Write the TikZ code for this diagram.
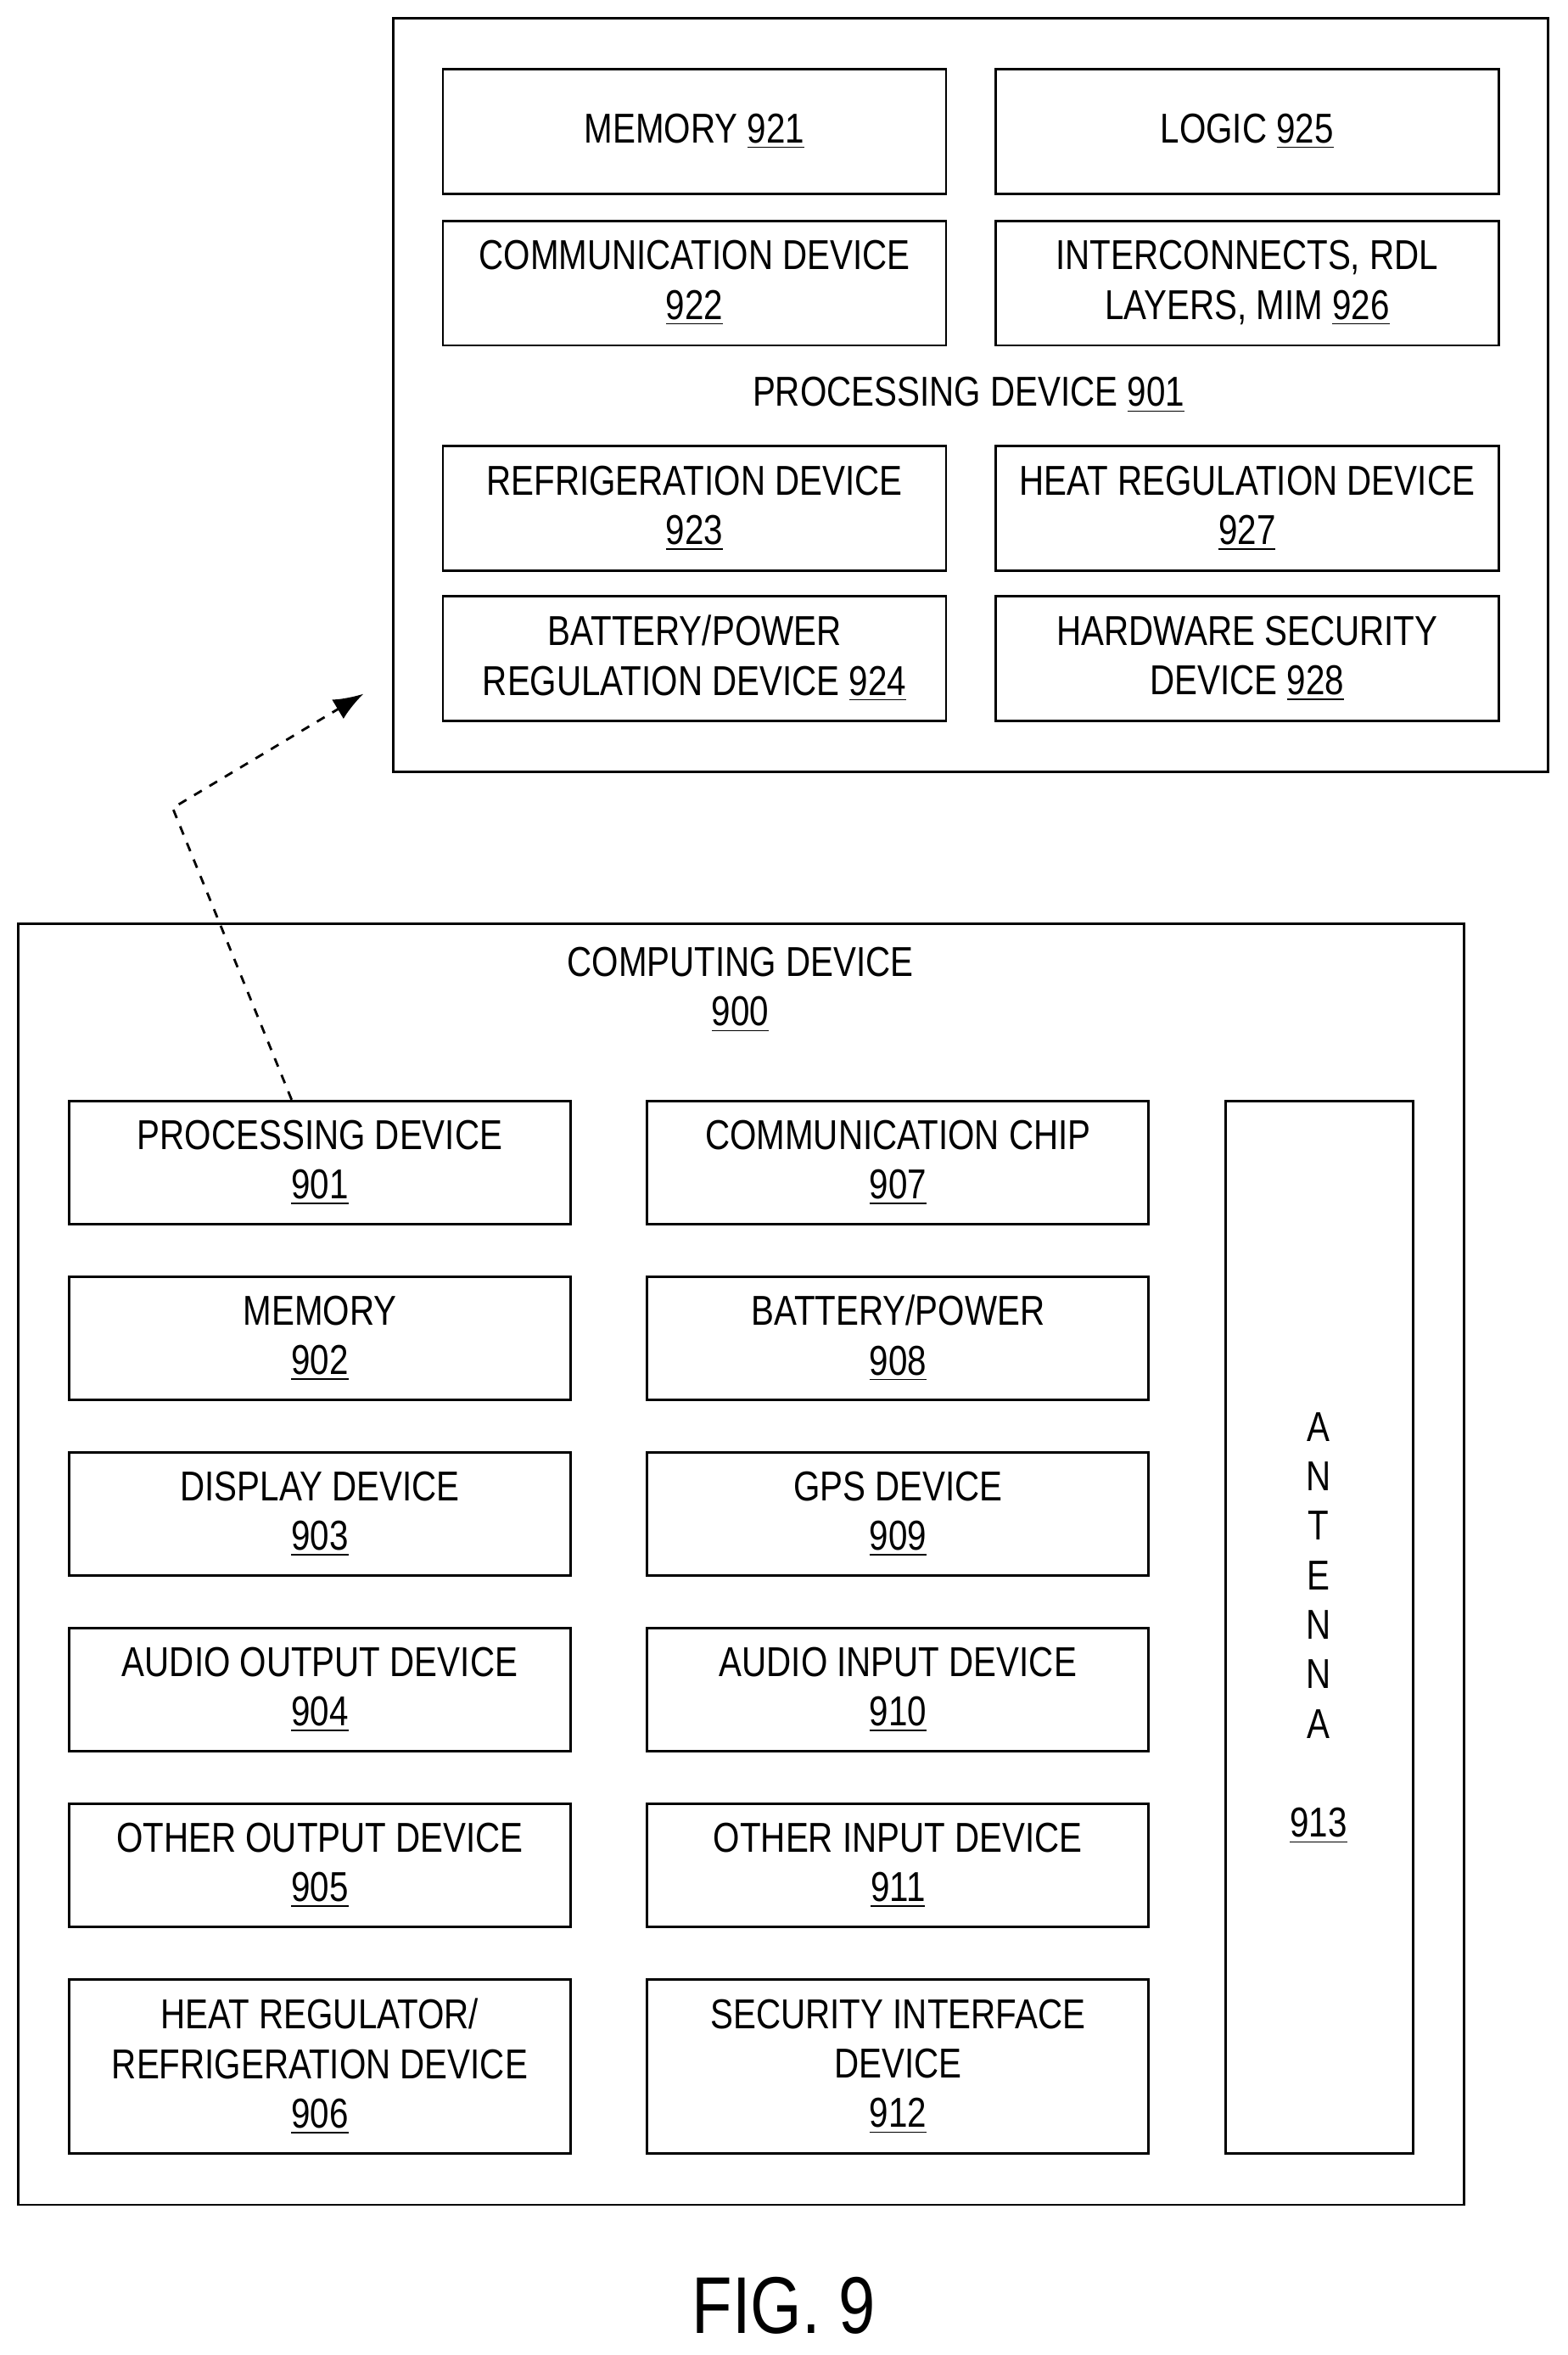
\documentclass[tikz,border=0pt]{standalone}
\usepackage{fontspec}
\setmainfont{Liberation Sans}[FakeStretch=0.82]
\usepackage{tikz}
\usetikzlibrary{arrows.meta}
\newcommand{\refnum}[1]{\underline{#1}}

\begin{document}
\begin{tikzpicture}[x=0.0177cm,y=-0.0177cm,
  every node/.style={font=\fontsize{14}{16.6}\selectfont,align=center},
  blk/.style={draw,thick,inner sep=0pt}]
\useasboundingbox (0,0) rectangle (1044,1568);

% processing device detail
\node[blk,minimum width=769*0.0177cm,minimum height=502*0.0177cm] (pd) at (646.5,263) {};
\node (pdlabel) at (645,263) {PROCESSING DEVICE \refnum{901}};
\begin{scope}[every node/.append style={blk,minimum width=335*0.0177cm,minimum height=83*0.0177cm}]
\node (921) at (462.5,87.5) {MEMORY \refnum{921}};
\node (925) at (830.5,87.5) {LOGIC \refnum{925}};
\node (922) at (462.5,188.5) {COMMUNICATION DEVICE\\\refnum{922}};
\node (926) at (830.5,188.5) {INTERCONNECTS, RDL\\LAYERS, MIM \refnum{926}};
\node (923) at (462.5,338.5) {REFRIGERATION DEVICE\\\refnum{923}};
\node (927) at (830.5,338.5) {HEAT REGULATION DEVICE\\\refnum{927}};
\node (924) at (462.5,438.5) {BATTERY/POWER\\REGULATION DEVICE \refnum{924}};
\node (928) at (830.5,438.5) {HARDWARE SECURITY\\DEVICE \refnum{928}};
\end{scope}

% computing device
\node[blk,minimum width=963*0.0177cm,minimum height=853*0.0177cm] (cd) at (493.5,1041.5) {};
\node (cdlabel) at (493,659) {COMPUTING DEVICE\\\refnum{900}};
\begin{scope}[every node/.append style={blk,minimum width=334*0.0177cm,minimum height=82*0.0177cm}]
\node (901) at (213,774) {PROCESSING DEVICE\\\refnum{901}};
\node (907) at (598,774) {COMMUNICATION CHIP\\\refnum{907}};
\node (902) at (213,891) {MEMORY\\\refnum{902}};
\node (908) at (598,891) {BATTERY/POWER\\\refnum{908}};
\node (903) at (213,1008) {DISPLAY DEVICE\\\refnum{903}};
\node (909) at (598,1008) {GPS DEVICE\\\refnum{909}};
\node (904) at (213,1125) {AUDIO OUTPUT DEVICE\\\refnum{904}};
\node (910) at (598,1125) {AUDIO INPUT DEVICE\\\refnum{910}};
\node (905) at (213,1242) {OTHER OUTPUT DEVICE\\\refnum{905}};
\node (911) at (598,1242) {OTHER INPUT DEVICE\\\refnum{911}};
\end{scope}
\begin{scope}[every node/.append style={blk,minimum width=334*0.0177cm,minimum height=116*0.0177cm}]
\node (906) at (213,1376) {HEAT REGULATOR/\\REFRIGERATION DEVICE\\\refnum{906}};
\node (912) at (598,1376) {SECURITY INTERFACE\\DEVICE\\\refnum{912}};
\end{scope}
\node[blk,minimum width=125*0.0177cm,minimum height=701*0.0177cm] (913) at (878.5,1083.5) {};
\node (antlabel) at (878,1084) {A\\N\\T\\E\\N\\N\\A\\[16.6pt]\refnum{913}};

% dashed link
\coordinate (bend) at (115,538);
\coordinate (tip) at (242,462);
\draw[thick,dashed,-{Latex[length=10pt]}] (901.north west) ++(149,0) coordinate (src) -- (bend) -- (tip);

\node[font=\fontsize{27}{30}\selectfont] (fig) at (522,1535) {FIG. 9};
\end{tikzpicture}
\end{document}
